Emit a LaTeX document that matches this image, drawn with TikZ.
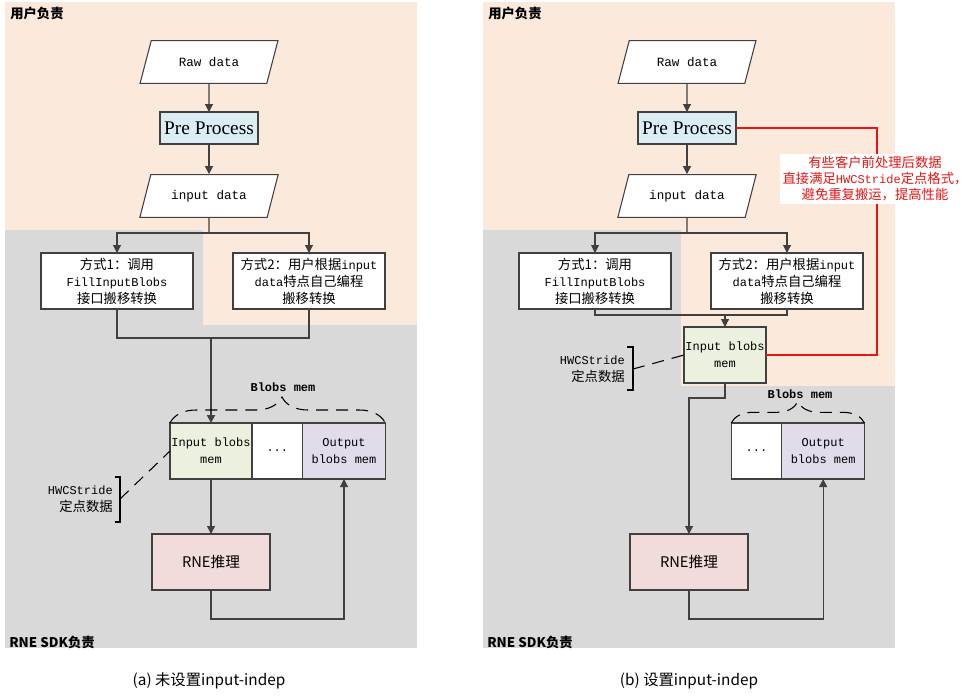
\documentclass[tikz,border=0pt]{standalone}
\usepackage{fontspec}
\setmainfont{Noto Sans CJK SC}
\setmonofont{Liberation Mono}[Scale=0.9]
\newfontfamily\prefont{Liberation Serif}
\usepackage{tikz}
\usetikzlibrary{arrows.meta,positioning,shapes.geometric,decorations.pathreplacing}
\definecolor{UserBg}{RGB}{251,233,220}
\definecolor{SdkBg}{RGB}{217,217,217}
\definecolor{PreC}{RGB}{218,238,243}
\definecolor{InC}{RGB}{235,241,222}
\definecolor{OutC}{RGB}{226,220,234}
\definecolor{RneC}{RGB}{242,220,219}
\definecolor{LineC}{RGB}{64,64,64}
\definecolor{NoteRed}{RGB}{235,20,20}
\tikzset{
  io/.style={trapezium,trapezium left angle=63,trapezium right angle=117,
             trapezium stretches=true,draw=LineC,line width=0.8pt,fill=white,
             minimum width=104pt,minimum height=32pt,inner sep=1pt,
             font=\fontsize{10.5}{12}\selectfont\ttfamily},
  proc/.style={rectangle,draw=LineC,line width=0.8pt,outer sep=0pt,
               minimum height=42pt,align=center,inner sep=1pt,
               font=\fontsize{10}{12.75}\selectfont},
  prebox/.style={proc,fill=PreC,minimum width=73.5pt,minimum height=24pt,
                 font=\prefont\fontsize{14.5}{16}\selectfont},
  way/.style={proc,fill=white,minimum width=114pt},
  memcell/.style={proc,minimum width=61.5pt,
                  font=\fontsize{10}{12.75}\selectfont\ttfamily},
  rne/.style={proc,fill=RneC,minimum width=88.5pt,font=\fontsize{11}{13}\selectfont},
  flow/.style={-{Stealth[length=6pt,width=6pt,inset=0pt]},draw=LineC,line width=0.8pt},
  link/.style={draw=LineC,line width=0.8pt},
  tag/.style={anchor=west,inner sep=0pt,font=\bfseries\fontsize{10}{12}\selectfont},
  memtag/.style={inner sep=0pt,font=\fontsize{10}{12}\selectfont\ttfamily\bfseries},
  note/.style={anchor=east,align=right,inner sep=0pt,
               font=\fontsize{10}{12.75}\selectfont},
  lead/.style={draw=black,line width=0.8pt,dash pattern=on 9pt off 6pt},
  span/.style={decorate,decoration={brace,amplitude=19.5pt,aspect=0.52},
               draw=black,line width=0.8pt,dash pattern=on 9pt off 6pt},
  redline/.style={draw=NoteRed,line width=0.8pt},
  rednote/.style={fill=white,text=NoteRed,align=center,inner sep=2pt,
                  font=\fontsize{10}{12}\selectfont},
  caption/.style={inner sep=0pt,font=\fontsize{11.5}{13}\selectfont},
}

\begin{document}
\begin{tikzpicture}[x=0.75pt,y=-0.75pt]
  \useasboundingbox (0,0) rectangle (977,697);
  % (a)
  \fill[SdkBg] (5,230) rectangle (417,648);
  \fill[UserBg] (5,2) rectangle (417,230);
  \fill[UserBg] (203,230) rectangle (417,325);
  \node[tag] (usrL) at (10,13) {用户负责};
  \node[tag] (sdkL) at (9,642) {RNE SDK负责};

  \node[io] (rawL) at (209,62) {Raw data};
  \node[prebox] (preL) at (209,128) {Pre Process};
  \node[io] (inpL) at (209,196) {input data};
  \node[way] (m1L) at (117,281) {方式1：调用\\\texttt{FillInputBlobs}\\接口搬移转换};
  \node[way] (m2L) at (309,281) {方式2：用户根据\texttt{input}\\\texttt{data}特点自己编程\\搬移转换};
  \node[memcell,fill=InC] (inL) at (211,451) {Input blobs\\mem};
  \node[memcell,fill=white,minimum width=38pt,right=0pt of inL] (dotL) {...};
  \node[memcell,fill=OutC,minimum width=62pt,right=0pt of dotL] (outL) {Output\\blobs mem};
  \node[rne] (rneL) at (211,562) {RNE推理};
  \node[memtag] (bmL) at (283,387) {Blobs mem};
  \node[note] (hwL) at (113,499) {\texttt{HWCStride}\\定点数据};
  \node[caption] (capL) at (209,681) {(a) 未设置input-indep};

  \coordinate (sL) at (209,233);
  \coordinate (jL) at (211,338);
  \coordinate (bL) at (211,619);
  \coordinate (bkL) at (120,499);
  \draw[flow] (rawL) -- (preL);
  \draw[flow] (preL) -- (inpL);
  \draw[link] (inpL.south) -- (sL);
  \draw[flow] (sL) -| (m1L.north);
  \draw[flow] (sL) -| (m2L.north);
  \draw[link] (m1L.south) |- (jL);
  \draw[link] (m2L.south) |- (jL);
  \draw[flow,line width=1.5pt] (jL) -- (inL.north);
  \draw[flow] (inL.south) -- (rneL.north);
  \draw[flow] (rneL.south) -- (bL) -| (outL.south);
  \draw[span] (inL.north west) -- (outL.north east);
  \draw[black,line width=0.8pt] (115,477) -- (120,477) -- (120,522) -- (115,522);
  \draw[lead] (bkL) -- (inL.west);

  % (b)
  \fill[SdkBg] (483,230) rectangle (895,648);
  \fill[UserBg] (483,2) rectangle (895,230);
  \fill[UserBg] (681,230) rectangle (895,386);
  \node[tag] (usrR) at (488,13) {用户负责};
  \node[tag] (sdkR) at (487,642) {RNE SDK负责};

  \node[io] (rawR) at (687,62) {Raw data};
  \node[prebox] (preR) at (687,128) {Pre Process};
  \node[io] (inpR) at (687,196) {input data};
  \node[way] (m1R) at (595,281) {方式1：调用\\\texttt{FillInputBlobs}\\接口搬移转换};
  \node[way] (m2R) at (787,281) {方式2：用户根据\texttt{input}\\\texttt{data}特点自己编程\\搬移转换};
  \node[memcell,fill=InC] (inR) at (725,355) {Input blobs\\mem};
  \node[memcell,fill=white,minimum width=38pt] (dotR) at (756.5,451) {...};
  \node[memcell,fill=OutC,minimum width=62pt,right=0pt of dotR] (outR) {Output\\blobs mem};
  \node[rne] (rneR) at (689,562) {RNE推理};
  \node[memtag] (bmR) at (800,394) {Blobs mem};
  \node[note] (hwR) at (625,369) {\texttt{HWCStride}\\定点数据};
  \node[caption] (capR) at (689,681) {(b) 设置input-indep};

  \coordinate (sR) at (687,233);
  \coordinate (jR) at (725,315);
  \coordinate (kR) at (689,398);
  \coordinate (bR) at (689,619);
  \coordinate (rtR) at (877,128);
  \coordinate (bkR) at (633,369);
  \draw[flow] (rawR) -- (preR);
  \draw[flow] (preR) -- (inpR);
  \draw[link] (inpR.south) -- (sR);
  \draw[flow] (sR) -| (m1R.north);
  \draw[flow] (sR) -| (m2R.north);
  \draw[link] (m1R.south) |- (jR);
  \draw[link] (m2R.south) |- (jR);
  \draw[flow] (jR) -- (inR.north);
  \draw[flow] (inR.south) |- (kR) -- (rneR.north);
  \draw[flow] (rneR.south) -- (bR) -| (outR.south);
  \draw[span,decoration={amplitude=16pt,aspect=0.5}] (dotR.north west) -- (outR.north east);
  \draw[black,line width=0.8pt] (627,347) -- (633,347) -- (633,390) -- (627,390);
  \draw[lead] (bkR) -- (inR.west);
  \draw[redline] (preR.east) -- (rtR) |- (inR.east);
  \node[rednote] (txtR) at (875,179) {有些客户前处理后数据\\直接满足\texttt{HWCStride}定点格式，\\避免重复搬运，提高性能};
\end{tikzpicture}
\end{document}
